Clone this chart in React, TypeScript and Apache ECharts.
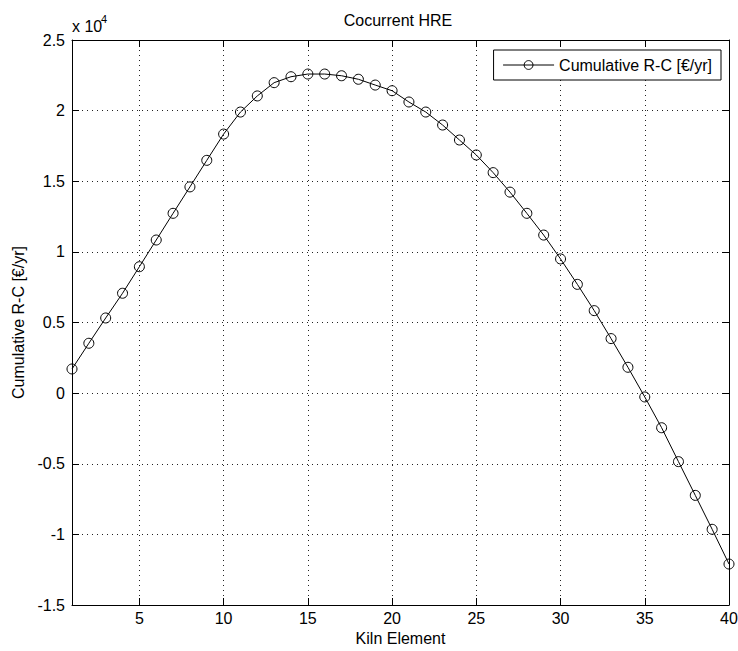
import React, { useEffect, useRef } from "react";
import * as echarts from "echarts";

const elements: number[] = [
  1, 2, 3, 4, 5, 6, 7, 8, 9, 10, 11, 12, 13, 14, 15, 16, 17, 18, 19, 20,
  21, 22, 23, 24, 25, 26, 27, 28, 29, 30, 31, 32, 33, 34, 35, 36, 37, 38, 39, 40,
];

const cumulativeRC: number[] = [
  1710, 3530, 5320, 7070, 8950, 10840, 12730, 14600, 16480, 18340,
  19900, 21040, 21980, 22400, 22590, 22590, 22470, 22220, 21810, 21410,
  20610, 19900, 18980, 17920, 16860, 15610, 14230, 12730, 11190, 9500,
  7700, 5840, 3860, 1830, -270, -2450, -4850, -7240, -9640, -12100,
];

const xTicks: number[] = [5, 10, 15, 20, 25, 30, 35, 40];

const seriesName = "Cumulative R-C [€/yr]";
const titleText = "Cocurrent HRE";
const xName = "Kiln Element";
const yName = "Cumulative R-C [€/yr]";

const FONT = "'Liberation Sans', Arial, Helvetica, sans-serif";

export default function App() {
  const ref = useRef<HTMLDivElement>(null);

  useEffect(() => {
    if (!ref.current) return;
    const chart = echarts.init(ref.current, undefined, { renderer: "svg" });
    const txt = { fontFamily: FONT, fontSize: 16, color: "#000" };
    const dotted = { type: [1, 4] as any, color: "#222", width: 1 };
    const blackLine = { color: "#000", width: 1 };

    chart.setOption({
      animation: false,
      backgroundColor: "#fff",
      title: {
        text: titleText,
        left: 398,
        textAlign: "center",
        top: 12,
        padding: 0,
        textStyle: { ...txt, fontWeight: "normal" },
      },
      graphic: [
        {
          type: "text",
          left: 72,
          top: 18,
          style: { text: "x 10", font: `16px ${FONT}`, fill: "#000" },
        },
        {
          type: "text",
          left: 101,
          top: 13,
          style: { text: "4", font: `11px ${FONT}`, fill: "#000" },
        },
      ],
      legend: {
        right: 17,
        top: 50,
        orient: "horizontal",
        backgroundColor: "#fff",
        borderColor: "#000",
        borderWidth: 1,
        borderRadius: 0,
        padding: [7, 9, 7, 9],
        itemWidth: 51,
        itemHeight: 11,
        itemGap: 0,
        textStyle: { ...txt },
        itemStyle: { color: "transparent", borderColor: "#000", borderWidth: 1 },
        lineStyle: { color: "#000", width: 1 },
        data: [{ name: seriesName }],
      },
      grid: {
        left: 72,
        right: 9,
        top: 40,
        bottom: 46,
        containLabel: false,
        outerBoundsMode: "none",
      },
      xAxis: [
        {
          type: "value",
          min: 1,
          max: 40,
          position: "bottom",
          name: xName,
          nameLocation: "middle",
          nameGap: 21,
          nameTextStyle: { ...txt },
          axisLine: { show: true, onZero: false, lineStyle: blackLine },
          axisTick: { show: true, inside: true, length: 7, customValues: xTicks, lineStyle: blackLine },
          axisLabel: { show: true, customValues: xTicks, margin: 5, ...txt },
          splitLine: { show: true, lineStyle: dotted },
        },
        {
          type: "value",
          min: 1,
          max: 40,
          position: "top",
          axisLine: { show: true, onZero: false, lineStyle: blackLine },
          axisTick: { show: true, inside: true, length: 7, customValues: xTicks, lineStyle: blackLine },
          axisLabel: { show: false },
          splitLine: { show: false },
        },
      ],
      yAxis: [
        {
          type: "value",
          min: -15000,
          max: 25000,
          interval: 5000,
          position: "left",
          name: yName,
          nameLocation: "middle",
          nameGap: 42,
          nameTextStyle: { ...txt },
          axisLine: { show: true, onZero: false, lineStyle: blackLine },
          axisTick: { show: true, inside: true, length: 7, lineStyle: blackLine },
          axisLabel: {
            show: true,
            margin: 7,
            ...txt,
            formatter: (v: number) => String(Math.round(v / 1000) / 10),
          },
          splitLine: { show: true, lineStyle: dotted },
        },
        {
          type: "value",
          min: -15000,
          max: 25000,
          interval: 5000,
          position: "right",
          axisLine: { show: true, onZero: false, lineStyle: blackLine },
          axisTick: { show: true, inside: true, length: 7, lineStyle: blackLine },
          axisLabel: { show: false },
          splitLine: { show: false },
        },
      ],
      series: [
        {
          type: "line",
          name: seriesName,
          xAxisIndex: 0,
          yAxisIndex: 0,
          data: elements.map((e, i) => [e, cumulativeRC[i]]),
          symbol: "circle",
          symbolSize: 10,
          showSymbol: true,
          showAllSymbol: true,
          lineStyle: { color: "#000", width: 1 },
          itemStyle: { color: "transparent", borderColor: "#000", borderWidth: 1 },
          emphasis: { disabled: true },
          silent: true,
          z: 3,
        },
      ],
    });

    return () => chart.dispose();
  }, []);

  return (
    <div
      ref={ref}
      style={{ position: "fixed", left: 0, top: 0, width: 738, height: 651, background: "#fff" }}
    />
  );
}
